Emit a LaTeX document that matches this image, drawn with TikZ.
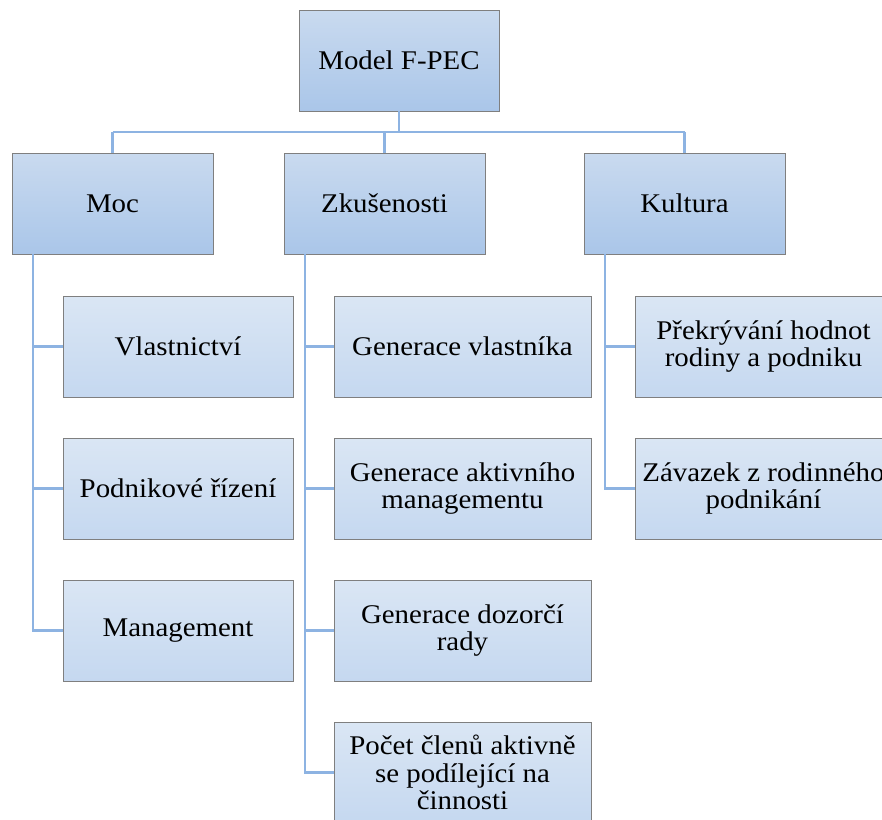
\documentclass[tikz,border=0pt]{standalone}
\usepackage{fontspec}
\setmainfont{Liberation Serif}[FakeStretch=1.07]
\definecolor{bordergray}{HTML}{7F7F7F}
\definecolor{linkblue}{HTML}{8DB3E2}
\definecolor{maintop}{HTML}{C9DAEF}
\definecolor{mainbot}{HTML}{AAC6E9}
\definecolor{subtop}{HTML}{DAE6F4}
\definecolor{subbot}{HTML}{C5D8F0}
\tikzset{
  box/.style={draw=bordergray, line width=0.9pt, anchor=north west, inner sep=0pt, outer sep=0pt,
    align=center, font=\fontsize{27}{27.5}\selectfont},
  mainbox/.style={box, top color=maintop, bottom color=mainbot, minimum width=201pt, minimum height=101pt},
  subbox/.style={box, top color=subtop, bottom color=subbot, minimum height=101pt},
  mocbox/.style={subbox, minimum width=230pt},
  widebox/.style={subbox, minimum width=257pt},
  link/.style={draw=linkblue, line width=2.6pt}
}
\begin{document}
\begin{tikzpicture}[x=1pt,y=-1pt]
\useasboundingbox (0,0) rectangle (882,819);
\clip (0,0) rectangle (882,819);
% level 0 and 1
\node[mainbox, minimum width=200pt] (top) at (299,10) {Model F-PEC};
\node[mainbox] (moc) at (12,153) {Moc};
\node[mainbox] (zk) at (284,153) {Zkušenosti};
\node[mainbox] (kul) at (584,153) {Kultura};
% Moc children
\node[mocbox] (m1) at (63,296) {Vlastnictví};
\node[mocbox] (m2) at (63,438) {Podnikové řízení};
\node[mocbox] (m3) at (63,580) {Management};
% Zkusenosti children
\node[widebox] (z1) at (334,296) {Generace vlastníka};
\node[widebox] (z2) at (334,438) {Generace aktivního\\managementu};
\node[widebox] (z3) at (334,580) {Generace dozorčí\\rady};
\node[widebox] (z4) at (334,722) {Počet členů aktivně\\se podílející na\\činnosti};
% Kultura children
\node[widebox] (k1) at (635,296) {Překrývání hodnot\\rodiny a podniku};
\node[widebox] (k2) at (635,438) {Závazek z rodinného\\podnikání};
% guide coordinates
\coordinate (bus) at (0,132);
\coordinate (mx) at (33,0);
\coordinate (zx) at (305,0);
\coordinate (kx) at (605,0);
% connectors level 0 -> 1
\begin{scope}[on background layer/.style={}]
\draw[link] (top.south) -- (top.south |- bus);
\draw[link] (moc.north |- bus) -- (kul.north |- bus);
\draw[link] (moc.north |- bus) -- (moc.north);
\draw[link] (zk.north |- bus) -- (zk.north);
\draw[link] (kul.north |- bus) -- (kul.north);
% Moc
\draw[link] (moc.south -| mx) |- (m3.west);
\draw[link] (mx |- m1.west) -- (m1.west);
\draw[link] (mx |- m2.west) -- (m2.west);
% Zkusenosti
\draw[link] (zk.south -| zx) |- (z4.west);
\draw[link] (zx |- z1.west) -- (z1.west);
\draw[link] (zx |- z2.west) -- (z2.west);
\draw[link] (zx |- z3.west) -- (z3.west);
% Kultura
\draw[link] (kul.south -| kx) |- (k2.west);
\draw[link] (kx |- k1.west) -- (k1.west);
\end{scope}
\end{tikzpicture}
\end{document}
